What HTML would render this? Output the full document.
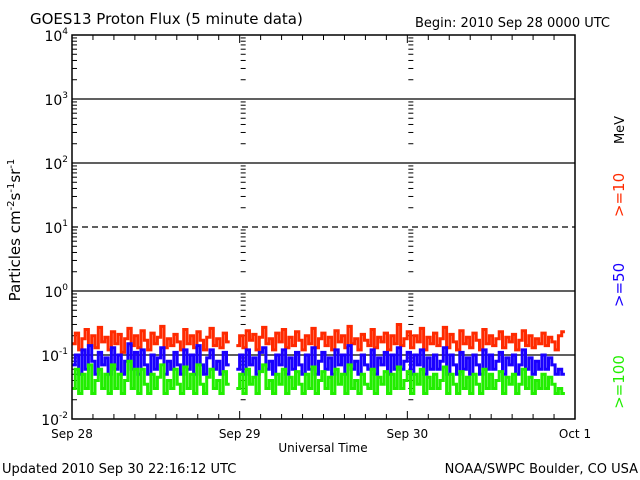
<!DOCTYPE html>
<html><head><meta charset="utf-8"><style>
body{margin:0;background:#fff;}
svg{display:block;font-family:"DejaVu Sans","Liberation Sans",sans-serif;}
</style></head><body>
<svg id="chart" width="640" height="480" viewBox="0 0 640 480">
<rect width="640" height="480" fill="#fff"/>
<text x="30" y="24" font-size="15">GOES13 Proton Flux (5 minute data)</text>
<text x="610" y="27" font-size="13" text-anchor="end">Begin: 2010 Sep 28 0000 UTC</text>
<text transform="translate(20,230) rotate(-90)" font-size="15" text-anchor="middle">Particles cm<tspan dy="-6" font-size="10">-2</tspan><tspan dy="6">s</tspan><tspan dy="-6" font-size="10">-1</tspan><tspan dy="6">sr</tspan><tspan dy="-6" font-size="10">-1</tspan></text>
<text transform="translate(624,130) rotate(-90)" font-size="13" text-anchor="middle">MeV</text>
<text transform="translate(624,195) rotate(-90)" font-size="15" fill="#ff2a00" text-anchor="middle">&gt;=10</text>
<text transform="translate(624,285) rotate(-90)" font-size="15" fill="#1a00ff" text-anchor="middle">&gt;=50</text>
<text transform="translate(624,382) rotate(-90)" font-size="15" fill="#22ee00" text-anchor="middle">&gt;=100</text>
<text x="323" y="452" font-size="12" text-anchor="middle">Universal Time</text>
<text x="2" y="473" font-size="13">Updated 2010 Sep 30 22:16:12 UTC</text>
<text x="638" y="473" font-size="13" text-anchor="end">NOAA/SWPC Boulder, CO USA</text>
<g id="g"></g>
</svg>
<script>
const dayLabels=["Sep 28","Sep 29","Sep 30","Oct 1"];
const decades=[-2,-1,0,1,2,3,4];
const startDay=0.0, stepDay=0.0196;
const red=[0.15,0.22,0.12,0.18,0.25,0.14,0.2,0.13,0.27,0.16,
0.19,0.12,0.23,0.15,0.21,0.11,0.18,0.26,0.14,0.2,
0.13,0.24,0.17,0.12,0.22,0.15,0.19,0.28,0.13,0.18,
0.14,0.21,0.16,0.12,0.25,0.15,0.2,0.13,0.23,0.17,
0.12,0.19,0.26,0.14,0.18,0.13,0.22,0.16,null,null,
0.14,0.2,0.13,0.24,0.17,0.21,0.12,0.19,0.27,0.15,
0.18,0.12,0.22,0.16,0.25,0.13,0.19,0.14,0.23,0.17,
0.12,0.2,0.15,0.26,0.13,0.18,0.22,0.14,0.19,0.12,
0.24,0.16,0.2,0.13,0.28,0.15,0.18,0.12,0.21,0.17,
0.14,0.25,0.13,0.19,0.16,0.22,0.12,0.2,0.15,0.3,
0.14,0.18,0.23,0.13,0.2,0.16,0.26,0.12,0.19,0.15,
0.22,0.14,0.18,0.27,0.13,0.21,0.16,0.12,0.24,0.15,
0.19,0.13,0.22,0.17,0.12,0.25,0.15,0.2,0.14,0.18,
0.23,0.13,0.19,0.16,0.21,0.12,0.17,0.24,0.14,0.2,
0.13,0.18,0.15,0.22,0.14,0.19,0.16,0.12,0.2,0.23];
const blue=[0.07,0.1,0.05,0.12,0.06,0.14,0.08,0.05,0.11,0.07,
0.09,0.05,0.13,0.06,0.1,0.05,0.08,0.15,0.06,0.11,
0.05,0.12,0.07,0.05,0.1,0.06,0.09,0.13,0.05,0.08,
0.06,0.11,0.07,0.05,0.12,0.06,0.1,0.05,0.14,0.07,
0.05,0.09,0.12,0.06,0.08,0.05,0.11,0.07,null,null,
0.06,0.1,0.05,0.12,0.07,0.09,0.05,0.11,0.13,0.06,
0.08,0.05,0.1,0.07,0.12,0.05,0.09,0.06,0.11,0.07,
0.05,0.1,0.06,0.13,0.05,0.08,0.11,0.06,0.09,0.05,
0.12,0.07,0.1,0.05,0.14,0.06,0.08,0.05,0.1,0.07,
0.06,0.12,0.05,0.09,0.07,0.11,0.05,0.1,0.06,0.13,
0.06,0.08,0.11,0.05,0.1,0.07,0.12,0.05,0.09,0.06,
0.1,0.06,0.08,0.13,0.05,0.1,0.07,0.05,0.11,0.06,
0.09,0.05,0.1,0.07,0.05,0.12,0.06,0.1,0.06,0.08,
0.11,0.05,0.09,0.07,0.1,0.05,0.07,0.12,0.06,0.09,
0.05,0.08,0.06,0.1,0.06,0.09,0.07,0.05,0.06,0.05];
const green=[0.03,0.06,0.025,0.05,0.03,0.07,0.025,0.04,0.06,0.03,
0.05,0.025,0.07,0.03,0.05,0.025,0.04,0.08,0.03,0.06,
0.025,0.06,0.035,0.025,0.05,0.03,0.045,0.07,0.025,0.04,
0.03,0.06,0.035,0.025,0.065,0.03,0.05,0.025,0.07,0.035,
0.025,0.045,0.06,0.03,0.04,0.025,0.055,0.035,null,null,
0.03,0.05,0.025,0.06,0.035,0.045,0.025,0.055,0.07,0.03,
0.04,0.025,0.05,0.035,0.06,0.025,0.045,0.03,0.055,0.035,
0.025,0.05,0.03,0.065,0.025,0.04,0.055,0.03,0.045,0.025,
0.06,0.035,0.05,0.025,0.07,0.03,0.04,0.025,0.05,0.035,
0.03,0.06,0.025,0.045,0.035,0.055,0.025,0.05,0.03,0.065,
0.03,0.04,0.055,0.025,0.05,0.035,0.06,0.025,0.045,0.03,
0.05,0.03,0.04,0.065,0.025,0.05,0.035,0.025,0.055,0.03,
0.045,0.025,0.05,0.035,0.025,0.06,0.03,0.05,0.03,0.04,
0.055,0.025,0.045,0.035,0.05,0.025,0.035,0.06,0.03,0.045,
0.025,0.04,0.03,0.05,0.03,0.045,0.035,0.025,0.03,0.025];
const X0=72,X1=575,Y0=35,Y1=419;
const xs=d=>X0+d*(X1-X0)/3;
const ys=v=>Y1-(Math.log10(v)+2)*(Y1-Y0)/6;
const NS="http://www.w3.org/2000/svg",g=document.getElementById('g');
function mk(t,a){const e=document.createElementNS(NS,t);for(const k in a)e.setAttribute(k,a[k]);g.appendChild(e);return e;}
decades.forEach(d=>{ if(d===-2||d===4) return;
 const e=mk('line',{x1:X0,x2:X1,y1:ys(Math.pow(10,d)),y2:ys(Math.pow(10,d)),stroke:'#000','stroke-width':1.3,'stroke-dasharray':d===1?'6,4':'none'});
 
 
});
[X0,xs(1),xs(2)].forEach((x,i)=>{
 for(let d=-2;d<4;d++){for(let m=2;m<=9;m++){const y=ys(m*Math.pow(10,d));
  const e=mk('line',{x1:i===0?x:x+1,x2:i===0?x+5:x+6,y1:y,y2:y,stroke:'#000','stroke-width':1});
  
  }}
});
for(let k=0;k<=24;k++){const x=xs(k/8);const L=k%8===0?8:5;
 const a=mk('line',{x1:x,x2:x,y1:Y1,y2:Y1-L,stroke:'#000'});
 
 
 const b=mk('line',{x1:x,x2:x,y1:Y0,y2:Y0+L,stroke:'#000'});
 
 }
dayLabels.forEach((s,i)=>{const e=mk('text',{x:xs(i),y:438,'font-size':12,'text-anchor':'middle'});e.textContent=s;
 
 });
decades.forEach(d=>{const e=mk('text',{x:X0-4,y:ys(Math.pow(10,d))+6,'font-size':14,'text-anchor':'end'});
 e.innerHTML='10<tspan dy="-7" font-size="9">'+d+'</tspan>';
 
 });
function series(arr,col,name){let p='',pen=false;
 arr.forEach((v,i)=>{if(v==null){pen=false;return;}const x=xs(startDay+i*stepDay),y=ys(v);
  p+=pen?('V'+y.toFixed(1)+'H'+(x+stepDay*(X1-X0)/3).toFixed(1)):('M'+x.toFixed(1)+','+y.toFixed(1)+'H'+(x+stepDay*(X1-X0)/3).toFixed(1));pen=true;});
 const e=mk('path',{d:p,fill:'none',stroke:col,'stroke-width':3,'stroke-linejoin':'miter'});
 
 }
series(red,'#ff2a00','series-ge10');
series(blue,'#1a00ff','series-ge50');
series(green,'#22ee00','series-ge100');
const f=mk('rect',{x:X0,y:Y0,width:X1-X0,height:Y1-Y0,fill:'none',stroke:'#000','stroke-width':1.5});


</script>
</body></html>
